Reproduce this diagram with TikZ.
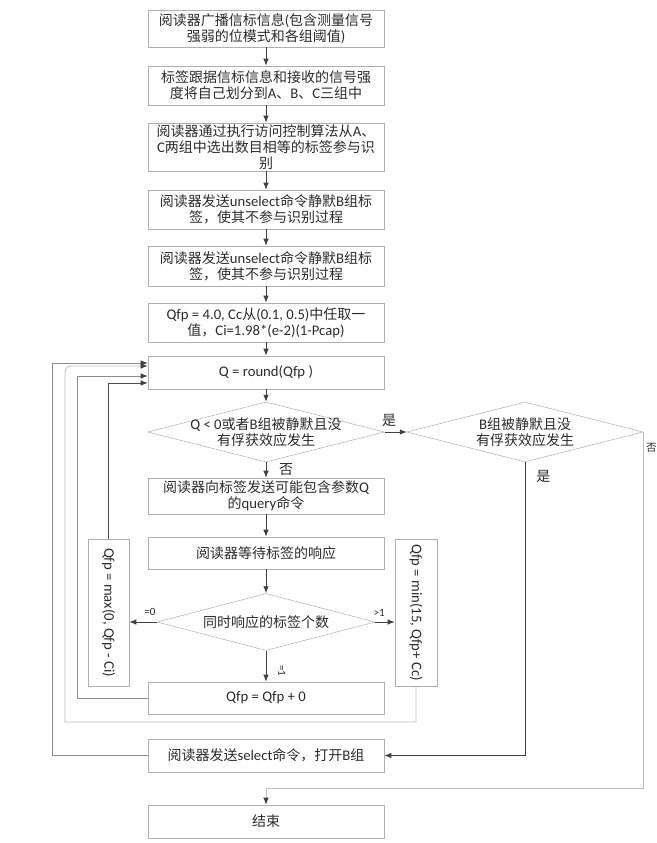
\documentclass[tikz,border=0pt]{standalone}
\usepackage{fontspec}
\usepackage{xcolor}
\usetikzlibrary{shapes.geometric,arrows.meta,positioning}
\setmainfont{Carlito}[Scale=1.05]
\newfontfamily\cjkfont{Noto Sans CJK SC}
\newfontfamily\latinfont{Carlito}[Scale=1.05]

% switch between Chinese and Latin fonts
\newcount\charidx
\newcommand\setclassrange[3]{%
  \charidx=#1\relax
  \loop\ifnum\charidx<#2\relax
    \XeTeXcharclass\charidx=#3\relax
    \advance\charidx by 1\relax
  \repeat}
\setclassrange{"20}{"7F}{0}
\setclassrange{"3000}{"3040}{7}
\setclassrange{"4E00}{"A000}{7}
\setclassrange{"FF00}{"FFF0}{7}
\XeTeXinterchartokenstate=1
\XeTeXinterchartoks 0 7 {\cjkfont}
\XeTeXinterchartoks 4095 7 {\cjkfont}
\XeTeXinterchartoks 7 0 {\latinfont}
\XeTeXinterchartoks 4095 0 {\latinfont}

\definecolor{boxgray}{HTML}{AFAFAF}
\definecolor{linedark}{HTML}{404040}
\definecolor{textgray}{HTML}{2B2B2B}
\definecolor{lightline}{HTML}{BDBDBD}
\definecolor{midline}{HTML}{8C8C8C}
\definecolor{darkline}{HTML}{505050}

\begin{document}
\begin{tikzpicture}[
    x=1pt, y=-1pt,
    font=\fontsize{14}{16}\selectfont,
    text=textgray,
    box/.style={rectangle, draw=boxgray, line width=0.6pt, minimum width=236pt, align=center, inner sep=1pt},
    decision/.style={diamond, draw=boxgray, line width=0.5pt, inner sep=0pt, minimum width=237pt, minimum height=60pt},
    arrow/.style={-{Latex[length=7pt,width=5.5pt]}, line width=0.9pt, draw=linedark},
    loopline/.style={-{Latex[length=7pt,width=5.5pt,color=linedark]}, line width=0.8pt},
    lab/.style={inner sep=0pt},
    smalllab/.style={inner sep=0pt, font=\fontsize{10.5}{12}\selectfont}
]
\useasboundingbox (0,0) rectangle (656,843);

\node[box, minimum height=37pt] (broadcast) at (266,28.5) {阅读器广播信标信息(包含测量信号\\强弱的位模式和各组阈值)};
\node[box, minimum height=39pt] (group) at (266,85.5) {标签跟据信标信息和接收的信号强\\度将自己划分到A、B、C三组中};
\node[box, minimum height=48pt] (pick) at (266,147) {阅读器通过执行访问控制算法从A、\\C两组中选出数目相等的标签参与识\\别};
\node[box, minimum height=39pt] (mute1) at (266,209.5) {阅读器发送unselect命令静默B组标\\签，使其不参与识别过程};
\node[box, minimum height=40pt] (mute2) at (266,266) {阅读器发送unselect命令静默B组标\\签，使其不参与识别过程};
\node[box, minimum height=39pt] (init) at (266,322.5) {Qfp = 4.0, Cc从(0.1, 0.5)中任取一\\值，Ci=1.98*(e-2)(1-Pcap)};
\node[box, minimum height=33pt] (round) at (266,372.5) {Q = round(Qfp )};
\node[decision, label={[align=center]center:{Q < 0或者B组被静默且没\\有俘获效应发生}}] (check) at (266,432) {};
\node[decision, minimum width=236pt, label={[align=center]center:{B组被静默且没\\有俘获效应发生}}] (checkB) at (525,432) {};
\node[box, minimum height=36pt] (query) at (266,496) {阅读器向标签发送可能包含参数Q\\的query命令};
\node[box, minimum height=32pt] (wait) at (266,553) {阅读器等待标签的响应};
\node[decision, minimum width=218pt, minimum height=57pt, label={center:同时响应的标签个数}] (count) at (266,622) {};
\node[box, minimum height=32pt] (keep) at (266,698) {Qfp = Qfp + 0};
\node[box, rotate=-90, minimum width=147pt, minimum height=41pt] (dec) at (108.5,612.5) {Qfp = max(0, Qfp - Ci)};
\node[box, rotate=-90, minimum width=147pt, minimum height=42pt] (inc) at (416,612.5) {Qfp = min(15, Qfp+ Cc)};
\node[box, minimum height=33pt] (open) at (266,755.5) {阅读器发送select命令，打开B组};
\node[box, minimum height=33pt] (finish) at (266,821.5) {结束};
\coordinate (endjoin) at (266,788);

% main column
\draw[arrow] (broadcast) -- (group);
\draw[arrow] (group) -- (pick);
\draw[arrow] (pick) -- (mute1);
\draw[arrow] (mute1) -- (mute2);
\draw[arrow] (mute2) -- (init);
\draw[arrow] (init) -- (round);
\draw[arrow] (round) -- (check);
\draw[arrow] (check) -- node[lab, pos=0.45, xshift=20pt] {否} (query);
\draw[arrow] (check.east) -- node[lab, pos=0.2, yshift=12pt] {是} (checkB.west);
\draw[arrow] (query) -- (wait);
\draw[arrow] (wait) -- (count);
\draw[arrow] (count) -- node[smalllab, pos=0.65, xshift=16pt, rotate=-90] {=1} (keep);
\draw[arrow] (count.west) -- node[smalllab, pos=0.25, yshift=10pt] {=0} (count.west -| dec.north);
\draw[arrow] (count.east) -- node[smalllab, pos=0.2, yshift=9pt] {>1} (count.east -| inc.south);
\draw[arrow] (checkB.south) |- node[lab, pos=0.025, anchor=west, xshift=11pt] {是} (open.east);
\draw[loopline, draw=lightline] (checkB.east) |- node[lab, pos=0.022, anchor=west, xshift=2.5pt, font=\fontsize{10.5}{12}\selectfont] {否} (endjoin) -- (finish);

% loops back to Q
\draw[loopline, draw=midline] (open.west) -| (52,363) -- ([yshift=9.5pt]round.west);
\draw[loopline, draw=lightline] (inc.east) |- (65,722) [rounded corners=6pt] -- (65,366) -- ([yshift=6.5pt]round.west);
\draw[loopline, draw=midline] (keep.west) -| (77,376) -- ([yshift=-3.5pt]round.west);
\draw[loopline, draw=darkline] (dec.west) -- (108.5,383) -- ([yshift=-10.5pt]round.west);

\end{tikzpicture}
\end{document}
